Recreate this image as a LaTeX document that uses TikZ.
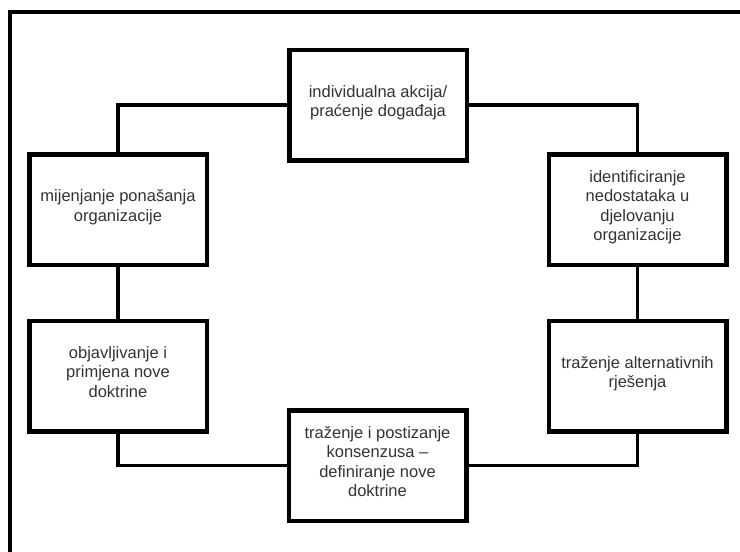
\documentclass[tikz,border=0pt]{standalone}
\usepackage{fontspec}
\setmainfont{Liberation Sans}
\begin{document}
\begin{tikzpicture}[x=1pt,y=-1pt,
  stepbox/.style={draw=black, line width=4.5pt, fill=white, minimum width=177.5pt,
    minimum height=110.5pt, align=center, inner sep=2pt, text=black!80,
    font=\fontsize{16.5pt}{19.5pt}\selectfont,
    execute at end node={\rule[-8pt]{0pt}{0pt}}},
  link/.style={line width=3.5pt, line join=miter}]
\useasboundingbox (0,0) rectangle (740,552);
\draw[line width=4pt, line join=miter] (10.3,552) -- (10.3,11.7) -- (740,11.7);

\node[stepbox] (top) at (378,105) {individualna akcija/\\praćenje događaja};
\node[stepbox] (ml) at (118,209.5) {mijenjanje ponašanja\\organizacije};
\node[stepbox] (ol) at (118,376) {objavljivanje i\\primjena nove\\doktrine};
\node[stepbox] (bot) at (377.5,465.5) {traženje i postizanje\\konsenzusa –\\definiranje nove\\doktrine};
\node[stepbox] (ra) at (637.5,376) {traženje alternativnih\\rješenja};
\node[stepbox] (id) at (637.5,209.5) {identificiranje\\nedostataka u\\djelovanju\\organizacije};

\draw[link] (top.west) -| (ml.north);
\draw[link] (ml.south) -- (ol.north);
\draw[link] (ol.south) |- (bot.west);
\draw[link] (bot.east) -| (ra.south);
\draw[link] (ra.north) -- (id.south);
\draw[link] (id.north) |- (top.east);
\end{tikzpicture}
\end{document}
